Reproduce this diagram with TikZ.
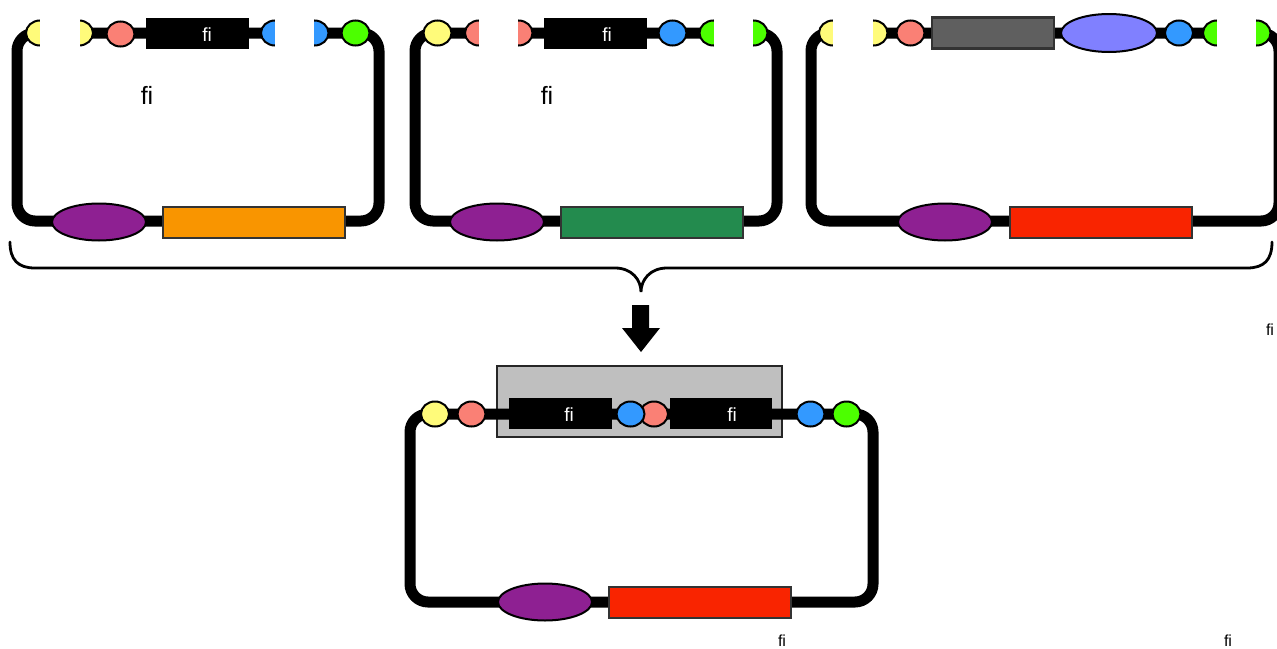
\documentclass[tikz,border=0pt]{standalone}
\usepackage{fontspec}
\setmainfont{Liberation Sans}
\usetikzlibrary{shapes.geometric}
\definecolor{cyel}{HTML}{FFFB7A}
\definecolor{csal}{HTML}{FA8075}
\definecolor{cblu}{HTML}{3399FF}
\definecolor{cgrn}{HTML}{4CFF00}
\definecolor{cpur}{HTML}{8E2092}
\definecolor{cora}{HTML}{F99500}
\definecolor{cdgr}{HTML}{238B4E}
\definecolor{cred}{HTML}{F92400}
\definecolor{cgry}{HTML}{5F5F5F}
\definecolor{cper}{HTML}{8080FF}
\definecolor{cbox}{HTML}{BFBFBF}
\tikzset{
  bb/.style={line width=11pt, rounded corners=18pt},
  part/.style={ellipse, draw=black, line width=2pt, minimum width=28pt, minimum height=25pt, inner sep=0pt},
  bigpart/.style={ellipse, draw=black, line width=2pt, minimum width=94pt, minimum height=37pt, inner sep=0pt},
  cds/.style={rectangle, draw=black!80, line width=2pt, minimum width=182pt, minimum height=31pt, inner sep=0pt},
  blk/.style={rectangle, fill=black, minimum width=103pt, minimum height=31pt, inner sep=0pt},
  wtxt/.style={text=white, font=\fontsize{19}{22}\selectfont, inner sep=0pt},
  btxt/.style={text=black, font=\fontsize{25}{28}\selectfont, inner sep=0pt},
  stxt/.style={text=black, font=\fontsize{16}{19}\selectfont, inner sep=0pt},
  gap/.style={fill=white},
  brace/.style={line width=2.8pt, line cap=round}
}
\begin{document}
\begin{tikzpicture}[x=1pt,y=-1pt]
\useasboundingbox (0,0) rectangle (1277,648);
% ---------- Panel 1 ----------
\draw[bb] (17,33) rectangle (379,221);
\node[part, fill=cyel] (p1y1) at (40,33) {};
\node[part, fill=cyel] (p1y2) at (79,33) {};
\node[part, fill=csal] (p1s) at (120.5,34) {};
\node[blk] (p1b) at (197.5,33.5) {};
\node[wtxt] (p1bt) at (207,35) {fi};
\node[part, fill=cblu] (p1u1) at (275,33) {};
\node[part, fill=cblu] (p1u2) at (314.5,33) {};
\node[part, fill=cgrn] (p1g) at (355.5,33) {};
\fill[gap] (40,15) rectangle (80,52);
\fill[gap] (275,15) rectangle (314,52);
\node[btxt] (p1l) at (147,95) {fi};
\node[bigpart, fill=cpur] (p1p) at (99,222) {};
\node[cds, fill=cora] (p1c) at (253.5,222) {};
% ---------- Panel 2 ----------
\draw[bb] (415,33) rectangle (777,221);
\node[part, fill=cyel] (p2y) at (437.5,33) {};
\node[part, fill=csal] (p2s1) at (479,33) {};
\node[part, fill=csal] (p2s2) at (518.5,33) {};
\node[blk] (p2b) at (595.5,33.5) {};
\node[wtxt] (p2bt) at (607,35) {fi};
\node[part, fill=cblu] (p2u) at (672.5,33) {};
\node[part, fill=cgrn] (p2g1) at (713.5,33) {};
\node[part, fill=cgrn] (p2g2) at (753.5,33) {};
\fill[gap] (479,15) rectangle (518,52);
\fill[gap] (713.5,15) rectangle (753,52);
\node[btxt] (p2l) at (547,95) {fi};
\node[bigpart, fill=cpur] (p2p) at (497,222) {};
\node[cds, fill=cdgr] (p2c) at (652,222) {};
% ---------- Panel 3 ----------
\draw[bb] (811,33) rectangle (1279,221);
\node[part, fill=cyel] (p3y1) at (833,33) {};
\node[part, fill=cyel] (p3y2) at (873.5,33) {};
\node[part, fill=csal] (p3s) at (910.5,33) {};
\node[rectangle, draw=black!80, line width=2.5pt, fill=cgry, minimum width=122pt, minimum height=31pt, inner sep=0pt] (p3r) at (993,33) {};
\node[ellipse, draw=black, line width=2pt, fill=cper, minimum width=96pt, minimum height=38pt, inner sep=0pt] (p3e) at (1109,33) {};
\node[part, fill=cblu] (p3u) at (1179,33) {};
\node[part, fill=cgrn] (p3g1) at (1217,33) {};
\node[part, fill=cgrn] (p3g2) at (1256.5,33) {};
\fill[gap] (833,15) rectangle (873,52);
\fill[gap] (1217,15) rectangle (1256,52);
\node[bigpart, fill=cpur] (p3p) at (945,222) {};
\node[cds, fill=cred] (p3c) at (1100.5,222) {};
% ---------- Brace and arrow ----------
\draw[brace] (10,242) .. controls (10,260) and (18,268) .. (35,268) -- (615,268)
  .. controls (632,268) and (641,280) .. (641,292)
  .. controls (641,280) and (650,268) .. (667,268) -- (1247,268)
  .. controls (1264,268) and (1272,260) .. (1272,242);
\fill (632,305) -- (649,305) -- (649,328) -- (660,328) -- (641,352) -- (622,328) -- (632,328) -- cycle;
\node[stxt] (l1) at (1270,330) {fi};
% ---------- Bottom panel ----------
\node[rectangle, draw=black!85, line width=1.8pt, fill=cbox, minimum width=285pt, minimum height=71pt, inner sep=0pt] (box) at (639.5,401.5) {};
\draw[bb] (410,414) rectangle (873,602);
\node[part, fill=cyel] (qy) at (435,414) {};
\node[part, fill=csal] (qs1) at (471.5,414) {};
\node[blk] (qb1) at (560.5,413.5) {};
\node[wtxt] (qb1t) at (569,415) {fi};
\node[part, fill=csal] (qs2) at (654,414) {};
\node[part, fill=cblu] (qu1) at (630.5,414) {};
\node[blk, minimum width=102pt] (qb2) at (721,413.5) {};
\node[wtxt] (qb2t) at (732,415) {fi};
\node[part, fill=cblu] (qu2) at (810.5,414) {};
\node[part, fill=cgrn] (qg) at (846.5,414) {};
\node[bigpart, fill=cpur] (qp) at (545,602) {};
\node[cds, fill=cred] (qc) at (700,602) {};
\node[stxt] (l2) at (782,641) {fi};
\node[stxt] (l3) at (1228,641) {fi};
\end{tikzpicture}
\end{document}
